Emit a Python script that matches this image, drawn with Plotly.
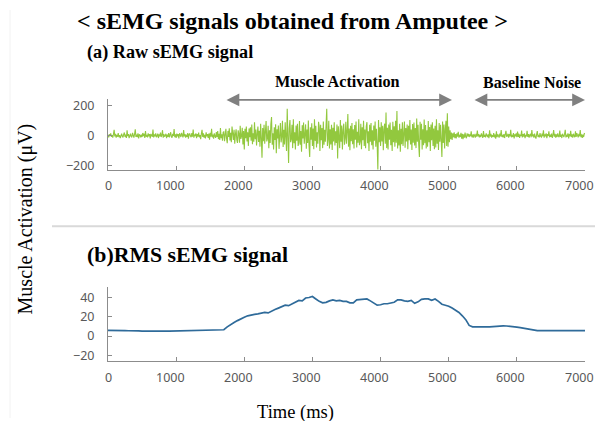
import plotly.graph_objects as go

# ---------------- data ----------------
raw_step_ms = 10
raw_pre = [5, -12, 8, -3, 14, -9, 2, -15, 10, 38,
           -6, 11, -14, 4, -8, 16, -11, 3, -18, 9,
           12, -5, -13, 7, 20, -10, 6, -16, 35, -4,
           9, -17, 3, 13, -7, -12, 18, -2, -14, 10,
           42, -9, 5, -11, 15, -20, 8, 1, -13, 6,
           -10, 17, -4, 12, -16, 30, -8, 4, -12, 14,
           -5, 9, -19, 11, 2, -9, 40, -13, 7, -6,
           15, -11, -3, 13, -17, 8, -6, 19, -10, 3,
           36, -14, 10, -7, -2, 12, -18, 6, -9, 16,
           -12, 4, 22, -8, -15, 11, -3, 44, -11, 7,
           -16, 13, -5, 9, -20, 15, 2, -10, 18, -7,
           -13, 37, -6, 10, -14, 5, -9, 17, -21, 8,
           12, -4, -11, 16, -8, 41, -15, 6, -3, 14,
           -18, 9, -7, 20, -12, 3, -25, 11, 39, -9,
           15, -14, 5, -19, 22, -6, 10, -17, 13, -28,
           18, -8, 45, -12, 6, -22, 14, -5, -16, 24,
           -10, 30, -24, 12, -30, 50, -18, 8, -35, 22]
raw_act = [25, -38, 12, 45, -20, -52, 31, -10, 48, -34,
           18, -45, 60, -15, -30, 38, -55, 8, 42, -28,
           -50, 35, 12, -48, 65, -23, -5, 52, -60, 30,
           -95, 45, -18, 60, -40, 22, -70, 48, -12, 55,
           -35, 75, -58, 15, -42, 90, -25, 40, -68, 10,
           60, -44, 32, -75, 80, -15, -150, 50, -38, 72,
           -55, 25, 98, -40, -22, 65, -85, 35, -50, 78,
           125, -62, 15, -95, 55, -30, 76, -120, 42, -20,
           68, -90, 35, 85, -46, -10, 100, -78, 38, -60,
           90, -40, -105, 180, -70, -185, 50, 105, -45, -25,
           72, -85, 110, -52, 22, -95, 68, -35, 80, -70,
           -45, 98, -62, 30, -110, 70, -20, 88, -55, 42,
           75, -90, 40, -50, 102, -65, -145, 55, -28, 82,
           -70, 48, -92, 110, -36, 65, -80, 22, -55, 92,
           58, -105, 72, -32, 50, -85, 95, -62, 38, -42,
           85, 180, -70, -28, 100, -88, 42, -60, 72, -98,
           52, -40, 90, -68, 28, -50, 75, -155, 62, -32,
           -85, 105, -42, 68, -95, 35, 80, -62, -20, 92,
           -55, 28, 145, -75, 48, -100, 65, -38, 85, -58,
           42, -88, 70, -28, 95, -80, 25, -48, 110, -65,
           -40, 80, -92, 55, -32, 100, -70, 40, -85, 62,
           90, -52, 28, -105, 72, -42, 85, -65, 35, -95,
           68, -35, 95, -75, 45, -58, -230, 105, -45, 55,
           -70, 90, -40, 65, -100, 42, 80, -55, 155, -85,
           52, -95, 75, -28, 88, -65, 38, -105, 92, -45,
           62, -75, 100, -48, 165, -88, 35, -68, 80, -110,
           45, -58, 90, -70, 28, 95, -82, 50, -40, 75,
           -92, 65, -32, 105, -60, 40, -98, 78, -48, 88,
           -68, 50, -85, 115, -42, 72, -62, -145, 92, -28,
           80, -95, 42, -65, 108, -52, 70, -88, 35, -75,
           98, -45, 58, -105, 75, -32, 90, -70, 48, -92,
           65, -80, 110, -55, 35, -98, 85, -42, 72, -62,
           -145, 95, -50, 75, -88, 42, 100, -70, 150, -75]
raw_trans = [60, -45, 35, -25, 20, -30, 15, -12, 22, -18,
             10, -20, 14, -8, 25, -15, 5, -10, 18, -22,
             12, -25, 8, -14, 20, -9, -18, 15, -6, 11]
raw_post = [-10, 8, -5, 28, -12, 6, -15, 10, -3, -14,
            12, -8, 33, -6, 9, -13, 4, -11, 15, -7,
            -16, 30, -9, 5, -12, 14, -4, -10, 8, -18,
            35, -7, 11, -15, 3, -9, 17, -12, 6, -22,
            29, -11, 8, -4, -14, 13, -6, 36, -10, 5,
            -13, 10, -17, 7, 31, -8, -3, 12, -15, 9,
            -6, 38, -12, 4, -10, 16, -20, 8, -5, 14,
            -11, 27, -9, 12, -16, 6, -4, 34, -13, 10,
            -8, 15, -18, 5, -7, 32, -10, 9, -14, 3,
            11, -12, 37, -6, 8, -15, 13, -9, -21, 7,
            30, -10, 4, -13, 16, -7, -11, 12, -5, 35,
            -14, 8, -6, 14, -18, 10, -3, 29, -12, 6,
            -9, 13, -16, 4, 36, -8, 11, -14, 7, -10,
            15, -5, -12, 33, -9, 6, -17, 12, -4, -11,
            9, 39, -13, 5, -8, 14, -19, 10, -6, 31,
            -10, 7, -15, 12, -3, -12, 28, -9, 16, -7,
            -13, 11, -5, 37, -11, 8, -16, 6, -10, 14,
            12]
raw_values = raw_pre + raw_act + raw_trans + raw_post
raw_time = [i * raw_step_ms for i in range(len(raw_values))]

rms_step_ms = 50
rms_values = [5.8, 5.9, 5.7, 5.8, 5.6, 5.7, 5.5, 5.6, 5.3, 5.4,
              5.1, 5.2, 5.0, 5.1, 5.2, 5.3, 4.9, 5.0, 5.0, 5.1,
              4.8, 4.9, 5.0, 5.1, 4.9, 5.0, 5.1, 5.2, 5.3, 5.5,
              5.6, 5.7, 5.8, 5.9,
              6.5, 9.5, 12.0, 14.0, 16.0, 18.0, 19.5,
              21.0, 22.0, 22.5, 23.0, 23.8, 24.5, 24.0, 26.0, 27.5, 29.0,
              30.5, 32.0, 31.5, 33.5, 35.0, 37.0, 36.5, 39.5, 40.0, 41.0,
              38.5, 36.0, 34.5, 35.0, 36.5, 37.5, 36.5, 37.0, 36.0, 36.0,
              34.5, 34.5, 37.5, 38.0, 38.5, 38.5, 36.5, 34.0, 32.0, 32.5,
              33.5, 33.5, 34.0, 35.0, 37.5, 37.5, 36.5, 36.0, 37.0, 34.0,
              35.5, 38.0, 38.5, 38.5, 37.0, 38.5, 36.0, 33.0, 32.0, 31.0,
              29.0, 27.0, 24.5, 21.0, 17.0, 11.0, 9.5, 9.6, 9.8, 9.8,
              9.6, 9.6, 10.0, 10.3, 10.5, 10.5, 10.4, 10.2, 9.7, 9.3,
              8.7, 8.0, 7.2, 6.8, 6.2, 5.7, 5.6, 5.6, 5.7, 5.8,
              5.5, 5.2, 5.1, 5.1, 5.3, 5.4, 5.5, 5.5, 5.6, 5.6]
rms_time = [i * rms_step_ms for i in range(len(rms_values))]

x_ticks = [0, 1000, 2000, 3000, 4000, 5000, 6000, 7000]
x_tick_labels = ['0', '1000', '2000', '3000', '4000', '5000', '6000', '7000']
raw_y_ticks = [-200, 0, 200]
rms_y_ticks = [-20, 0, 20, 40]

# ---------------- figure ----------------
# the page body keeps its default 8px margin, so the figure is 16px smaller than the window
OFF = 8
W, H = 603 - 2 * OFF, 429 - 2 * OFF


def px_x(p):
    return (p - OFF) / W


def px_y(p):
    return 1 - (p - OFF) / H


fig = go.Figure()
fig.add_trace(go.Scatter(x=raw_time, y=raw_values, xaxis='x', yaxis='y', mode='lines',
                         line=dict(color='#92C83E', width=1.1), showlegend=False, hoverinfo='skip'))
fig.add_trace(go.Scatter(x=rms_time, y=rms_values, xaxis='x2', yaxis='y2', mode='lines',
                         line=dict(color='#2F6B9A', width=1.7), showlegend=False, hoverinfo='skip'))

tick_font = dict(family='Noto Sans', size=12.5, color='#595959')
axis_common = dict(showline=True, linecolor='#8C8C8C', linewidth=1, ticks='inside', ticklen=4,
                   tickcolor='#8C8C8C', showgrid=False, zeroline=False, tickfont=tick_font)

xdom = [px_x(108), px_x(585)]
fig.update_layout(
    width=W, height=H, margin=dict(l=0, r=0, t=0, b=0),
    paper_bgcolor='white', plot_bgcolor='white', showlegend=False,
    xaxis=dict(domain=xdom, range=[0, 7000], tickvals=x_ticks, showticklabels=False, anchor='y',
               **axis_common),
    yaxis=dict(domain=[px_y(170), px_y(98)], range=[-233, 247], tickvals=raw_y_ticks, anchor='x',
               ticklabelstandoff=10, **axis_common),
    xaxis2=dict(domain=xdom, range=[0, 7000], tickvals=x_ticks, showticklabels=False, anchor='y2',
                **axis_common),
    yaxis2=dict(domain=[px_y(363), px_y(288)], range=[-25.6, 51.3], tickvals=rms_y_ticks, anchor='x2',
                ticklabelstandoff=10, **axis_common),
)

ann = []
# x tick labels: in the reference the multi-digit labels sit a few pixels left of their tick
for xref, label_y in (('x', 186), ('x2', 380)):
    for tv, lab in zip(x_ticks, x_tick_labels):
        ann.append(dict(text=lab, x=tv, y=px_y(label_y), xref=xref, yref='paper', showarrow=False,
                        xanchor='center', yanchor='middle', xshift=(0 if tv == 0 else -6),
                        font=tick_font, borderpad=0))

serif = 'Liberation Serif'
ann.append(dict(text='<b>&lt; sEMG signals obtained from Amputee &gt;</b>', x=px_x(292), y=px_y(19),
                xref='paper', yref='paper', showarrow=False, font=dict(family=serif, size=24, color='black'),
                xanchor='center', yanchor='middle'))
ann.append(dict(text='<b>(a) Raw sEMG signal</b>', x=px_x(85), y=px_y(51), xref='paper', yref='paper',
                showarrow=False, font=dict(family=serif, size=18.2, color='black'), xanchor='left', yanchor='middle'))
ann.append(dict(text='<b>(b)RMS sEMG signal</b>', x=px_x(85), y=px_y(256), xref='paper', yref='paper',
                showarrow=False, font=dict(family=serif, size=21.8, color='black'), xanchor='left', yanchor='middle'))
ann.append(dict(text='<b>Muscle Activation</b>', x=px_x(337), y=px_y(81), xref='paper', yref='paper',
                showarrow=False, font=dict(family=serif, size=16.2, color='black'), xanchor='center', yanchor='middle'))
ann.append(dict(text='<b>Baseline Noise</b>', x=px_x(532), y=px_y(81), xref='paper', yref='paper',
                showarrow=False, font=dict(family=serif, size=16, color='black'), xanchor='center', yanchor='middle'))
ann.append(dict(text='Muscle Activation (\u03bcV)', x=px_x(25), y=px_y(220), xref='paper', yref='paper',
                showarrow=False, textangle=-90, font=dict(family=serif, size=20, color='black'),
                xanchor='center', yanchor='middle'))
ann.append(dict(text='Time (ms)', x=px_x(295), y=px_y(415), xref='paper', yref='paper',
                showarrow=False, font=dict(family=serif, size=18.5, color='black'), xanchor='center', yanchor='middle'))


# arrows (in data units of the top time axis)
def t_of_px(p):
    return (p - 108) / 477 * 7000


for a, b in [(225, 452), (473, 585)]:
    ann.append(dict(text='', x=t_of_px(b), y=px_y(99), xref='x', yref='paper',
                    ax=t_of_px(a), ay=0, axref='x', ayref='pixel',
                    showarrow=True, arrowside='end+start', arrowhead=2, arrowsize=1.6,
                    arrowwidth=1.6, arrowcolor='#808080'))
fig.update_layout(annotations=ann)

fig.add_shape(type='line', xref='paper', yref='paper', x0=px_x(52), x1=1, y0=px_y(227), y1=px_y(227),
              line=dict(color='#D9D9D9', width=2))
fig.add_shape(type='line', xref='paper', yref='paper', x0=px_x(10), x1=px_x(10), y0=0, y1=1,
              line=dict(color='#F2F2F2', width=1))

fig.write_html('out.html', config={'displayModeBar': False})
